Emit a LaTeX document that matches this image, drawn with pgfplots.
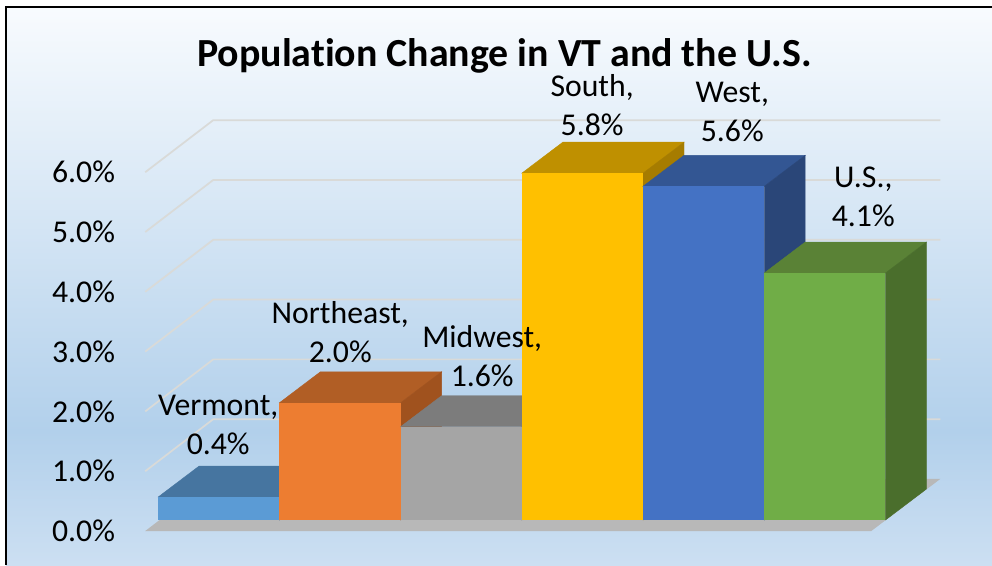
\documentclass[border=0pt]{standalone}
\usepackage{pgfplots}
\pgfplotsset{compat=1.18}
\usepackage{fontspec}
\setmainfont{Carlito}[Ligatures=NoCommon]
\definecolor{bgA}{HTML}{CCDFF2}
\definecolor{bgB}{HTML}{B2D0EB}
\definecolor{bgC}{HTML}{F8FBFE}
\pgfdeclareverticalshading{bgshade}{100bp}{
  color(0bp)=(bgA); color(25bp)=(bgA); color(37bp)=(bgB); color(75bp)=(bgC); color(100bp)=(bgC)}
\definecolor{gridc}{HTML}{D9DAD8}
\definecolor{floorc}{HTML}{B8B8B8}
\definecolor{vtF}{HTML}{5B9BD5}\definecolor{vtT}{HTML}{4675A0}\definecolor{vtS}{HTML}{3A6288}
\definecolor{neF}{HTML}{ED7D31}\definecolor{neT}{HTML}{B15E25}\definecolor{neS}{HTML}{A0521E}
\definecolor{mwF}{HTML}{A5A5A5}\definecolor{mwT}{HTML}{7C7C7C}\definecolor{mwS}{HTML}{6A6A6A}
\definecolor{soF}{HTML}{FFC000}\definecolor{soT}{HTML}{BF9000}\definecolor{soS}{HTML}{A67C00}
\definecolor{weF}{HTML}{4472C4}\definecolor{weT}{HTML}{335693}\definecolor{weS}{HTML}{2A4678}
\definecolor{usF}{HTML}{70AD47}\definecolor{usT}{HTML}{5A8236}\definecolor{usS}{HTML}{4A6E2C}
\newcommand{\lblfont}{\fontsize{23.8}{29}\selectfont}
\begin{document}
\begin{tikzpicture}
\path[use as bounding box] (0,0) rectangle (744pt,423.75pt);
\fill[white] (0,0) rectangle (744pt,423.75pt);
\shade[shading=bgshade] (4.5pt,0) rectangle (744pt,418.5pt);
\draw[black,line width=1.8pt] (4.5pt,0) -- (4.5pt,418.5pt) -- (744pt,418.5pt);
\begin{axis}[
  at={(108.75pt,25.5pt)},anchor=south west,
  scale only axis,width=596.25pt,height=313.95pt,
  xmin=-0.609,xmax=5.95,ymin=0,ymax=7,
  clip=false,
  axis line style={draw=none},
  tick style={draw=none},
  xtick=\empty,
  ytick={0,1,2,3,4,5,6},
  yticklabel={\pgfmathprintnumber[fixed,fixed zerofill,precision=1]{\tick}\%},
  /pgf/number format/assume math mode=true,
  yticklabel style={font=\lblfont,xshift=-19pt},
]
% floor
\addplot[fill=floorc,draw=none] coordinates {(-0.607,0)(5.383,0)(5.952,0.87)(-0.046,0.87)} --cycle;
% gridlines
\addplot[gridc,line width=1.3pt] coordinates {(-0.607,1)(-0.046,1.87)(5.952,1.87)};
\addplot[gridc,line width=1.3pt] coordinates {(-0.607,2)(-0.046,2.87)(5.952,2.87)};
\addplot[gridc,line width=1.3pt] coordinates {(-0.607,3)(-0.046,3.87)(5.952,3.87)};
\addplot[gridc,line width=1.3pt] coordinates {(-0.607,4)(-0.046,4.87)(5.952,4.87)};
\addplot[gridc,line width=1.3pt] coordinates {(-0.607,5)(-0.046,5.87)(5.952,5.87)};
\addplot[gridc,line width=1.3pt] coordinates {(-0.607,6)(-0.046,6.87)(5.952,6.87)};
% Vermont 0.4
\addplot[fill=vtT,draw=vtT,line width=0.3pt,yshift=8.25pt] coordinates {(-0.5,0.385)(0.5,0.385)(0.838,0.903)(-0.162,0.903)} --cycle;
\addplot[fill=vtS,draw=vtS,line width=0.3pt,yshift=8.25pt] coordinates {(0.5,0)(0.838,0.518)(0.838,0.903)(0.5,0.385)} --cycle;
\addplot[ybar,bar width=90.9pt,bar shift=0pt,fill=vtF,draw=none,yshift=8.25pt] coordinates {(0,0.385)};
% Northeast 2.0
\addplot[fill=neT,draw=neT,line width=0.3pt,yshift=8.25pt] coordinates {(0.5,1.96)(1.5,1.96)(1.838,2.478)(0.838,2.478)} --cycle;
\addplot[fill=neS,draw=neS,line width=0.3pt,yshift=8.25pt] coordinates {(1.5,0)(1.838,0.518)(1.838,2.478)(1.5,1.96)} --cycle;
\addplot[ybar,bar width=90.9pt,bar shift=0pt,fill=neF,draw=none,yshift=8.25pt] coordinates {(1,1.96)};
% Midwest 1.6
\addplot[fill=mwT,draw=mwT,line width=0.3pt,yshift=8.25pt] coordinates {(1.5,1.56)(2.5,1.56)(2.838,2.078)(1.838,2.078)} --cycle;
\addplot[fill=mwS,draw=mwS,line width=0.3pt,yshift=8.25pt] coordinates {(2.5,0)(2.838,0.518)(2.838,2.078)(2.5,1.56)} --cycle;
\addplot[ybar,bar width=90.9pt,bar shift=0pt,fill=mwF,draw=none,yshift=8.25pt] coordinates {(2,1.56)};
% South 5.8
\addplot[fill=soT,draw=soT,line width=0.3pt,yshift=8.25pt] coordinates {(2.5,5.8)(3.5,5.8)(3.838,6.318)(2.838,6.318)} --cycle;
\addplot[fill=soS,draw=soS,line width=0.3pt,yshift=8.25pt] coordinates {(3.5,0)(3.838,0.518)(3.838,6.318)(3.5,5.8)} --cycle;
\addplot[ybar,bar width=90.9pt,bar shift=0pt,fill=soF,draw=none,yshift=8.25pt] coordinates {(3,5.8)};
% West 5.6
\addplot[fill=weT,draw=weT,line width=0.3pt,yshift=8.25pt] coordinates {(3.5,5.58)(4.5,5.58)(4.838,6.098)(3.838,6.098)} --cycle;
\addplot[fill=weS,draw=weS,line width=0.3pt,yshift=8.25pt] coordinates {(4.5,0)(4.838,0.518)(4.838,6.098)(4.5,5.58)} --cycle;
\addplot[ybar,bar width=90.9pt,bar shift=0pt,fill=weF,draw=none,yshift=8.25pt] coordinates {(4,5.58)};
% U.S. 4.1
\addplot[fill=usT,draw=usT,line width=0.3pt,yshift=8.25pt] coordinates {(4.5,4.13)(5.5,4.13)(5.838,4.648)(4.838,4.648)} --cycle;
\addplot[fill=usS,draw=usS,line width=0.3pt,yshift=8.25pt] coordinates {(5.5,0)(5.838,0.518)(5.838,4.648)(5.5,4.13)} --cycle;
\addplot[ybar,bar width=90.9pt,bar shift=0pt,fill=usF,draw=none,yshift=8.25pt] coordinates {(5,4.13)};
% labels
\node[font=\lblfont,align=center,inner sep=0pt] at (axis cs:-0.005,1.773) {Vermont,\\0.4\%};
\node[font=\lblfont,align=center,inner sep=0pt] at (axis cs:1.002,3.328) {Northeast,\\2.0\%};
\node[font=\lblfont,align=center,inner sep=0pt] at (axis cs:2.173,2.926) {Midwest,\\1.6\%};
\node[font=\lblfont,align=center,inner sep=0pt] at (axis cs:3.08,7.12) {South,\\5.8\%};
\node[font=\lblfont,align=center,inner sep=0pt] at (axis cs:4.236,7.007) {West,\\5.6\%};
\node[font=\lblfont,align=center,inner sep=0pt] at (axis cs:5.317,5.585) {U.S.,\\4.1\%};
\end{axis}
\node[font=\fontsize{29.9}{34}\bfseries\selectfont] at (378.3pt,381.5pt) {Population Change in VT and the U.S.};
\end{tikzpicture}
\end{document}
